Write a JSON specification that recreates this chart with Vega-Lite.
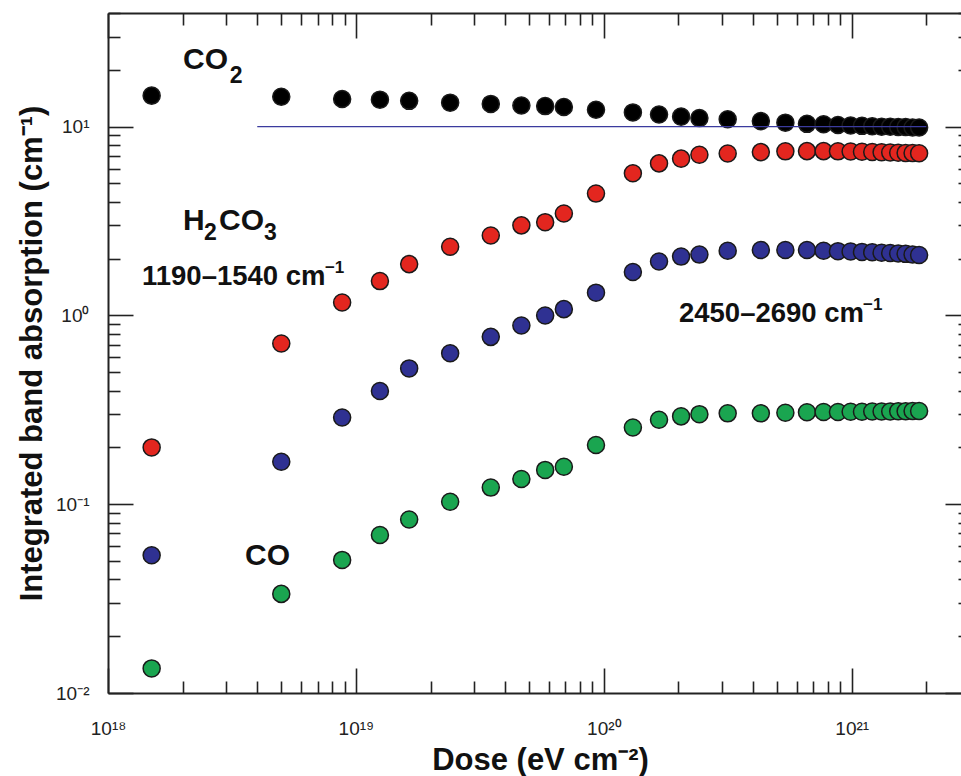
{
  "$schema": "https://vega.github.io/schema/vega-lite/v6.json",
  "width": 853,
  "height": 680,
  "autosize": {"type": "none"},
  "padding": {"left": 108, "top": 13, "right": 0, "bottom": 83},
  "background": "white",
  "config": {"view": {"stroke": null}, "font": "Liberation Sans"},
  "datasets": {
    "pts": [
      {"s": "CO2", "dose": 1.5e18, "value": 14.6},
      {"s": "CO2", "dose": 5.0e18, "value": 14.4},
      {"s": "CO2", "dose": 8.8e18, "value": 14.0},
      {"s": "CO2", "dose": 1.25e19, "value": 13.9},
      {"s": "CO2", "dose": 1.64e19, "value": 13.7},
      {"s": "CO2", "dose": 2.4e19, "value": 13.4},
      {"s": "CO2", "dose": 3.5e19, "value": 13.2},
      {"s": "CO2", "dose": 4.65e19, "value": 12.95},
      {"s": "CO2", "dose": 5.8e19, "value": 12.85},
      {"s": "CO2", "dose": 6.9e19, "value": 12.7},
      {"s": "CO2", "dose": 9.3e19, "value": 12.3},
      {"s": "CO2", "dose": 1.31e20, "value": 11.9},
      {"s": "CO2", "dose": 1.67e20, "value": 11.6},
      {"s": "CO2", "dose": 2.05e20, "value": 11.3},
      {"s": "CO2", "dose": 2.43e20, "value": 11.1},
      {"s": "CO2", "dose": 3.16e20, "value": 10.95},
      {"s": "CO2", "dose": 4.3e20, "value": 10.7},
      {"s": "CO2", "dose": 5.4e20, "value": 10.5},
      {"s": "CO2", "dose": 6.6e20, "value": 10.35},
      {"s": "CO2", "dose": 7.7e20, "value": 10.3},
      {"s": "CO2", "dose": 8.8e20, "value": 10.2},
      {"s": "CO2", "dose": 9.9e20, "value": 10.15},
      {"s": "CO2", "dose": 1.1e21, "value": 10.1},
      {"s": "CO2", "dose": 1.21e21, "value": 10.05},
      {"s": "CO2", "dose": 1.32e21, "value": 10.0},
      {"s": "CO2", "dose": 1.43e21, "value": 10.0},
      {"s": "CO2", "dose": 1.54e21, "value": 9.95},
      {"s": "CO2", "dose": 1.65e21, "value": 9.95},
      {"s": "CO2", "dose": 1.76e21, "value": 9.9},
      {"s": "CO2", "dose": 1.87e21, "value": 9.9},
      {"s": "H2CO3a", "dose": 1.5e18, "value": 0.2},
      {"s": "H2CO3a", "dose": 5.0e18, "value": 0.71},
      {"s": "H2CO3a", "dose": 8.8e18, "value": 1.17},
      {"s": "H2CO3a", "dose": 1.25e19, "value": 1.52},
      {"s": "H2CO3a", "dose": 1.64e19, "value": 1.87},
      {"s": "H2CO3a", "dose": 2.4e19, "value": 2.31},
      {"s": "H2CO3a", "dose": 3.5e19, "value": 2.65},
      {"s": "H2CO3a", "dose": 4.65e19, "value": 3.0},
      {"s": "H2CO3a", "dose": 5.8e19, "value": 3.12},
      {"s": "H2CO3a", "dose": 6.9e19, "value": 3.47},
      {"s": "H2CO3a", "dose": 9.3e19, "value": 4.42},
      {"s": "H2CO3a", "dose": 1.31e20, "value": 5.66},
      {"s": "H2CO3a", "dose": 1.67e20, "value": 6.39},
      {"s": "H2CO3a", "dose": 2.05e20, "value": 6.77},
      {"s": "H2CO3a", "dose": 2.43e20, "value": 7.1},
      {"s": "H2CO3a", "dose": 3.16e20, "value": 7.21},
      {"s": "H2CO3a", "dose": 4.3e20, "value": 7.33},
      {"s": "H2CO3a", "dose": 5.4e20, "value": 7.4},
      {"s": "H2CO3a", "dose": 6.6e20, "value": 7.42},
      {"s": "H2CO3a", "dose": 7.7e20, "value": 7.42},
      {"s": "H2CO3a", "dose": 8.8e20, "value": 7.4},
      {"s": "H2CO3a", "dose": 9.9e20, "value": 7.38},
      {"s": "H2CO3a", "dose": 1.1e21, "value": 7.36},
      {"s": "H2CO3a", "dose": 1.21e21, "value": 7.34},
      {"s": "H2CO3a", "dose": 1.32e21, "value": 7.32},
      {"s": "H2CO3a", "dose": 1.43e21, "value": 7.3},
      {"s": "H2CO3a", "dose": 1.54e21, "value": 7.28},
      {"s": "H2CO3a", "dose": 1.65e21, "value": 7.26},
      {"s": "H2CO3a", "dose": 1.76e21, "value": 7.25},
      {"s": "H2CO3a", "dose": 1.87e21, "value": 7.23},
      {"s": "H2CO3b", "dose": 1.5e18, "value": 0.0537},
      {"s": "H2CO3b", "dose": 5.0e18, "value": 0.168},
      {"s": "H2CO3b", "dose": 8.8e18, "value": 0.288},
      {"s": "H2CO3b", "dose": 1.25e19, "value": 0.398},
      {"s": "H2CO3b", "dose": 1.64e19, "value": 0.524},
      {"s": "H2CO3b", "dose": 2.4e19, "value": 0.63},
      {"s": "H2CO3b", "dose": 3.5e19, "value": 0.77},
      {"s": "H2CO3b", "dose": 4.65e19, "value": 0.885},
      {"s": "H2CO3b", "dose": 5.8e19, "value": 1.0},
      {"s": "H2CO3b", "dose": 6.9e19, "value": 1.08},
      {"s": "H2CO3b", "dose": 9.3e19, "value": 1.32},
      {"s": "H2CO3b", "dose": 1.31e20, "value": 1.7},
      {"s": "H2CO3b", "dose": 1.67e20, "value": 1.93},
      {"s": "H2CO3b", "dose": 2.05e20, "value": 2.05},
      {"s": "H2CO3b", "dose": 2.43e20, "value": 2.1},
      {"s": "H2CO3b", "dose": 3.16e20, "value": 2.2},
      {"s": "H2CO3b", "dose": 4.3e20, "value": 2.22},
      {"s": "H2CO3b", "dose": 5.4e20, "value": 2.22},
      {"s": "H2CO3b", "dose": 6.6e20, "value": 2.22},
      {"s": "H2CO3b", "dose": 7.7e20, "value": 2.2},
      {"s": "H2CO3b", "dose": 8.8e20, "value": 2.19},
      {"s": "H2CO3b", "dose": 9.9e20, "value": 2.18},
      {"s": "H2CO3b", "dose": 1.1e21, "value": 2.17},
      {"s": "H2CO3b", "dose": 1.21e21, "value": 2.16},
      {"s": "H2CO3b", "dose": 1.32e21, "value": 2.15},
      {"s": "H2CO3b", "dose": 1.43e21, "value": 2.14},
      {"s": "H2CO3b", "dose": 1.54e21, "value": 2.13},
      {"s": "H2CO3b", "dose": 1.65e21, "value": 2.12},
      {"s": "H2CO3b", "dose": 1.76e21, "value": 2.1},
      {"s": "H2CO3b", "dose": 1.87e21, "value": 2.09},
      {"s": "CO", "dose": 1.5e18, "value": 0.0135},
      {"s": "CO", "dose": 5.0e18, "value": 0.0335},
      {"s": "CO", "dose": 8.8e18, "value": 0.0507},
      {"s": "CO", "dose": 1.25e19, "value": 0.0687},
      {"s": "CO", "dose": 1.64e19, "value": 0.083},
      {"s": "CO", "dose": 2.4e19, "value": 0.103},
      {"s": "CO", "dose": 3.5e19, "value": 0.1225},
      {"s": "CO", "dose": 4.65e19, "value": 0.136},
      {"s": "CO", "dose": 5.8e19, "value": 0.152},
      {"s": "CO", "dose": 6.9e19, "value": 0.158},
      {"s": "CO", "dose": 9.3e19, "value": 0.206},
      {"s": "CO", "dose": 1.31e20, "value": 0.255},
      {"s": "CO", "dose": 1.67e20, "value": 0.28},
      {"s": "CO", "dose": 2.05e20, "value": 0.292},
      {"s": "CO", "dose": 2.43e20, "value": 0.3},
      {"s": "CO", "dose": 3.16e20, "value": 0.303},
      {"s": "CO", "dose": 4.3e20, "value": 0.303},
      {"s": "CO", "dose": 5.4e20, "value": 0.305},
      {"s": "CO", "dose": 6.6e20, "value": 0.307},
      {"s": "CO", "dose": 7.7e20, "value": 0.308},
      {"s": "CO", "dose": 8.8e20, "value": 0.308},
      {"s": "CO", "dose": 9.9e20, "value": 0.309},
      {"s": "CO", "dose": 1.1e21, "value": 0.309},
      {"s": "CO", "dose": 1.21e21, "value": 0.31},
      {"s": "CO", "dose": 1.32e21, "value": 0.31},
      {"s": "CO", "dose": 1.43e21, "value": 0.31},
      {"s": "CO", "dose": 1.54e21, "value": 0.311},
      {"s": "CO", "dose": 1.65e21, "value": 0.311},
      {"s": "CO", "dose": 1.76e21, "value": 0.312},
      {"s": "CO", "dose": 1.87e21, "value": 0.312}
    ],
    "ref": [
      {"dose": 4.0e18, "value": 10},
      {"dose": 2.0e21, "value": 10}
    ],
    "chem": [
      {"dose": 2.007e18, "value": 20.2, "t": "CO"},
      {"dose": 2.007e18, "value": 2.834, "t": "H"},
      {"dose": 2.805e18, "value": 2.834, "t": "CO"},
      {"dose": 3.57e18, "value": 0.04764, "t": "CO"}
    ],
    "sub": [
      {"dose": 3.10e18, "value": 17.0, "t": "2"},
      {"dose": 2.44e18, "value": 2.507, "t": "2"},
      {"dose": 4.26e18, "value": 2.507, "t": "3"}
    ],
    "wn": [
      {"dose": 1.371e18, "value": 1.449, "t": "1190–1540 cm"},
      {"dose": 2.01e20, "value": 0.9226, "t": "2450–2690 cm"}
    ],
    "sup": [
      {"dose": 7.50e18, "value": 1.677, "t": "−1"},
      {"dose": 1.11e21, "value": 1.068, "t": "−1"}
    ]
  },
  "layer": [
    {
      "data": {"name": "pts"},
      "mark": {"type": "circle", "size": 290, "stroke": "#1a1a1a", "strokeWidth": 1.5, "opacity": 1},
      "encoding": {
        "x": {
          "field": "dose", "type": "quantitative",
          "scale": {"type": "log", "domain": [1e18, 3e21], "range": [0, 862], "nice": false},
          "axis": {
            "orient": "bottom",
            "values": [1e18, 1e19, 1e20, 1e21],
            "labelExpr": "datum.value == 1e18 ? '10¹⁸' : datum.value == 1e19 ? '10¹⁹' : datum.value == 1e20 ? '10²⁰' : datum.value == 1e21 ? '10²¹' : ''",
            "title": "Dose (eV cm⁻²)",
            "grid": false, "ticks": false,
            "domainColor": "#222", "domainWidth": 2,
            "labelPadding": 26, "labelFontSize": 19, "labelColor": "#222", "labelFont": "Liberation Sans",
            "labelFlush": false, "labelOverlap": false, "labelBound": false,
            "titleFont": "Liberation Sans", "titleFontSize": 31, "titleFontWeight": "bold", "titleColor": "#111",
            "titleX": 432, "titleY": 76, "titleBaseline": "alphabetic", "titleAlign": "center"
          }
        },
        "y": {
          "field": "value", "type": "quantitative",
          "scale": {"type": "log", "domain": [0.01, 40], "nice": false},
          "axis": {
            "orient": "left",
            "values": [0.01, 0.1, 1, 10],
            "labelExpr": "datum.value == 10 ? '10¹' : datum.value == 1 ? '10⁰' : datum.value == 0.1 ? '10⁻¹' : datum.value == 0.01 ? '10⁻²' : ''",
            "title": "Integrated band absorption (cm⁻¹)",
            "grid": false, "ticks": false,
            "domainColor": "#222", "domainWidth": 2,
            "labelPadding": 19, "labelFontSize": 19, "labelColor": "#222", "labelFont": "Liberation Sans",
            "labelFlush": false, "labelOverlap": false, "labelBound": false,
            "labelAlign": "right", "labelBaseline": "middle",
            "titleFont": "Liberation Sans", "titleFontSize": 31, "titleFontWeight": "bold", "titleColor": "#111",
            "titleX": -67, "titleY": 340, "titleAngle": -90, "titleBaseline": "alphabetic", "titleAlign": "center"
          }
        },
        "color": {
          "field": "s", "type": "nominal",
          "scale": {"domain": ["CO2", "H2CO3a", "H2CO3b", "CO"], "range": ["#000000", "#e3261f", "#2f3192", "#1aa550"]},
          "legend": null
        }
      }
    },
    {
      "data": {"name": "ref"},
      "mark": {"type": "line", "color": "#3b3b9e", "strokeWidth": 1.3},
      "encoding": {
        "x": {
          "field": "dose", "type": "quantitative",
          "axis": {
            "orient": "top", "offset": -680,
            "values": [1e18, 1e19, 1e20, 1e21],
            "labels": false, "title": null, "grid": false, "domain": false,
            "tickColor": "#222", "tickWidth": 1.6, "tickSize": 25
          }
        },
        "y": {
          "field": "value", "type": "quantitative",
          "axis": {
            "orient": "right", "offset": -853,
            "values": [0.01, 0.1, 1, 10],
            "labels": false, "title": null, "grid": false, "domain": false,
            "tickColor": "#222", "tickWidth": 1.6, "tickSize": 25
          }
        }
      }
    },
    {
      "data": {"name": "chem"},
      "mark": {"type": "text", "align": "left", "baseline": "alphabetic", "fontSize": 30, "fontWeight": "bold", "color": "#111", "font": "Liberation Sans"},
      "encoding": {
        "x": {
          "field": "dose", "type": "quantitative",
          "axis": {
            "orient": "top", "offset": -680,
            "values": [2e18,3e18,4e18,5e18,6e18,7e18,8e18,9e18,2e19,3e19,4e19,5e19,6e19,7e19,8e19,9e19,2e20,3e20,4e20,5e20,6e20,7e20,8e20,9e20,2e21,3e21],
            "labels": false, "title": null, "grid": false, "domain": false,
            "tickColor": "#222", "tickWidth": 1.6, "tickSize": 12
          }
        },
        "y": {
          "field": "value", "type": "quantitative",
          "axis": {
            "orient": "right", "offset": -853,
            "values": [0.02,0.03,0.04,0.05,0.06,0.07,0.08,0.09,0.2,0.3,0.4,0.5,0.6,0.7,0.8,0.9,2,3,4,5,6,7,8,9,20,30,40],
            "labels": false, "title": null, "grid": false, "domain": false,
            "tickColor": "#222", "tickWidth": 1.6, "tickSize": 12
          }
        },
        "text": {"field": "t"}
      }
    },
    {
      "data": {"name": "sub"},
      "mark": {"type": "text", "align": "left", "baseline": "alphabetic", "fontSize": 23, "fontWeight": "bold", "color": "#111", "font": "Liberation Sans"},
      "encoding": {
        "x": {
          "field": "dose", "type": "quantitative",
          "axis": {
            "orient": "bottom", "offset": -680,
            "values": [1e18, 1e19, 1e20, 1e21],
            "labels": false, "title": null, "grid": false,
            "domainColor": "#222", "domainWidth": 2,
            "tickColor": "#222", "tickWidth": 1.6, "tickSize": 25
          }
        },
        "y": {
          "field": "value", "type": "quantitative",
          "axis": {
            "orient": "left", "offset": -862,
            "values": [0.01, 0.1, 1, 10],
            "labels": false, "title": null, "grid": false,
            "domainColor": "#222", "domainWidth": 2,
            "tickColor": "#222", "tickWidth": 1.6, "tickSize": 25
          }
        },
        "text": {"field": "t"}
      }
    },
    {
      "data": {"name": "wn"},
      "mark": {"type": "text", "align": "left", "baseline": "alphabetic", "fontSize": 27.5, "fontWeight": "bold", "color": "#111", "font": "Liberation Sans"},
      "encoding": {
        "x": {
          "field": "dose", "type": "quantitative",
          "axis": {
            "orient": "bottom", "offset": -680,
            "values": [2e18,3e18,4e18,5e18,6e18,7e18,8e18,9e18,2e19,3e19,4e19,5e19,6e19,7e19,8e19,9e19,2e20,3e20,4e20,5e20,6e20,7e20,8e20,9e20,2e21,3e21],
            "labels": false, "title": null, "grid": false, "domain": false,
            "tickColor": "#222", "tickWidth": 1.6, "tickSize": 12
          }
        },
        "y": {
          "field": "value", "type": "quantitative",
          "axis": {
            "orient": "left", "offset": -862,
            "values": [0.02,0.03,0.04,0.05,0.06,0.07,0.08,0.09,0.2,0.3,0.4,0.5,0.6,0.7,0.8,0.9,2,3,4,5,6,7,8,9,20,30,40],
            "labels": false, "title": null, "grid": false, "domain": false,
            "tickColor": "#222", "tickWidth": 1.6, "tickSize": 12
          }
        },
        "text": {"field": "t"}
      }
    },
    {
      "data": {"name": "sup"},
      "mark": {"type": "text", "align": "left", "baseline": "alphabetic", "fontSize": 17, "fontWeight": "bold", "color": "#111", "font": "Liberation Sans"},
      "encoding": {
        "x": {"field": "dose", "type": "quantitative", "axis": null},
        "y": {"field": "value", "type": "quantitative", "axis": null},
        "text": {"field": "t"}
      }
    }
  ],
  "resolve": {"axis": {"x": "independent", "y": "independent"}}
}
